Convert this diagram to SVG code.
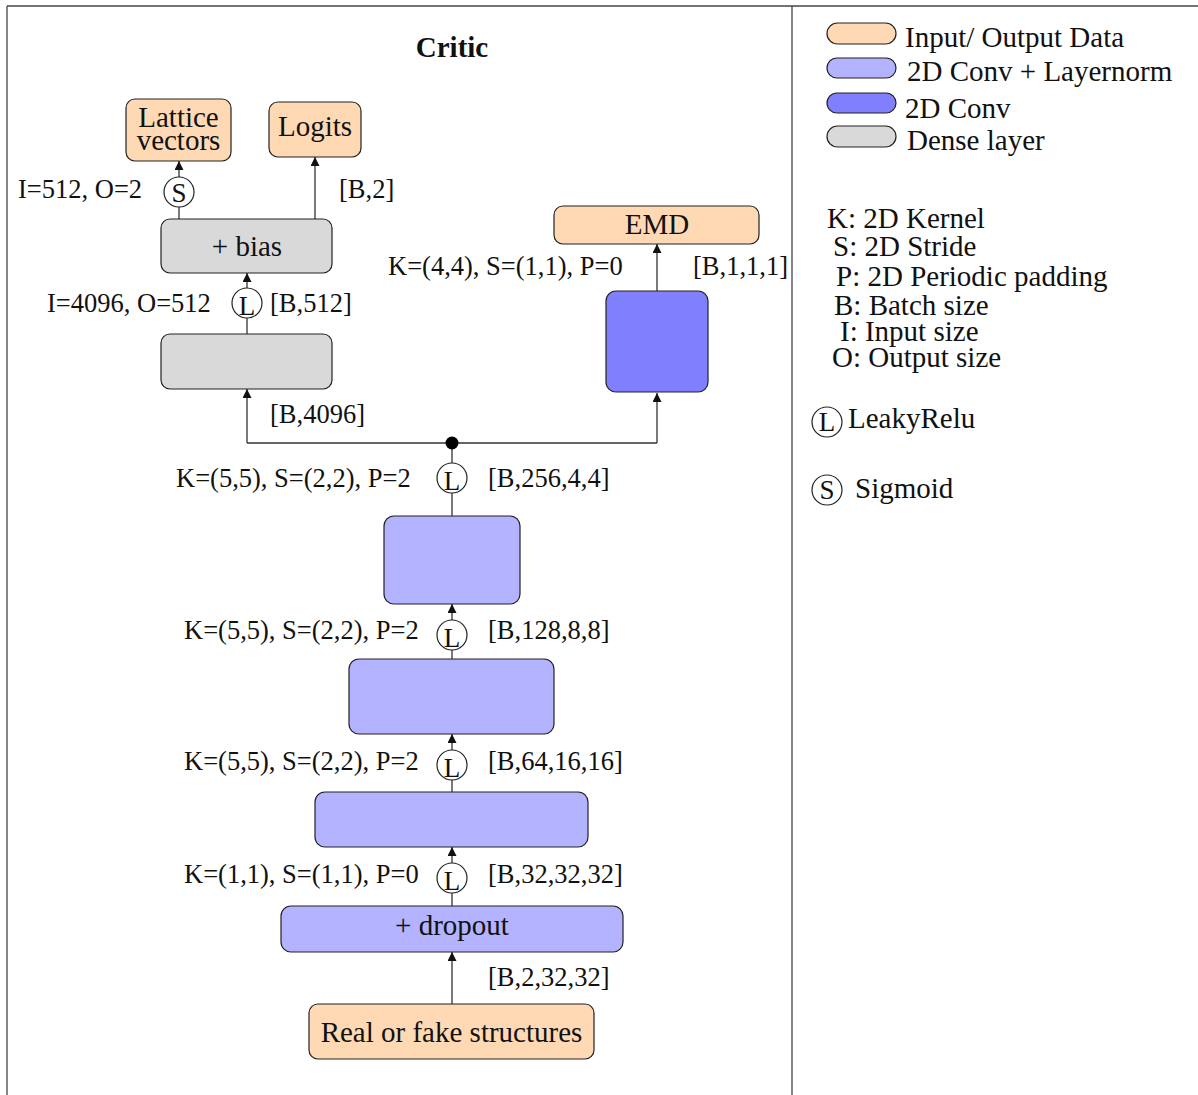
<svg xmlns="http://www.w3.org/2000/svg" width="1198" height="1095" viewBox="0 0 1198 1095">
  <style>
    text { font-family: "Liberation Serif", "Times New Roman", serif; fill: #111; }
    .node { font-size: 29px; text-anchor: middle; }
    .lbl { font-size: 26.5px; }
    .leg { font-size: 29px; }
    .io { fill: #FFD9B3; stroke: #222; stroke-width: 1.2; }
    .cln { fill: #B3B3FF; stroke: #222; stroke-width: 1.2; }
    .conv { fill: #8080FF; stroke: #222; stroke-width: 1.2; }
    .dense { fill: #D9D9D9; stroke: #222; stroke-width: 1.2; }
    .frame { stroke: #444; stroke-width: 1.3; fill: none; }
    .wire { stroke: #333; stroke-width: 1.3; fill: none; }
    .act { fill: #fff; stroke: #222; stroke-width: 1.2; }
    .actt { font-size: 27px; text-anchor: middle; }
  </style>
  <defs>
    <marker id="tip" viewBox="0 0 10 10" refX="10" refY="5" markerWidth="9" markerHeight="9" markerUnits="userSpaceOnUse" orient="auto">
      <path d="M0,0 L10,5 L0,10 z" fill="#111"/>
    </marker>
  </defs>

  <!-- outer frame and column divider -->
  <g id="frame">
    <line class="frame" x1="7" y1="6" x2="1198" y2="6"/>
    <line class="frame" x1="7" y1="6" x2="7" y2="1095"/>
    <line class="frame" x1="792" y1="6" x2="792" y2="1095"/>
  </g>

  <text x="452" y="57" font-size="29" font-weight="bold" text-anchor="middle">Critic</text>

  <!-- connectors -->
  <g id="connectors">
    <line class="wire" x1="179" y1="177" x2="179" y2="161" marker-end="url(#tip)"/>
    <line class="wire" x1="179" y1="219" x2="179" y2="207"/>
    <line class="wire" x1="315" y1="219" x2="315" y2="157" marker-end="url(#tip)"/>
    <line class="wire" x1="247" y1="288" x2="247" y2="273" marker-end="url(#tip)"/>
    <line class="wire" x1="247" y1="334" x2="247" y2="318"/>
    <polyline class="wire" points="247,443 657,443"/>
    <line class="wire" x1="247" y1="443" x2="247" y2="389" marker-end="url(#tip)"/>
    <line class="wire" x1="657" y1="443" x2="657" y2="393" marker-end="url(#tip)"/>
    <line class="wire" x1="657" y1="291" x2="657" y2="244" marker-end="url(#tip)"/>
    <line class="wire" x1="452" y1="443" x2="452" y2="463"/>
    <line class="wire" x1="452" y1="493" x2="452" y2="516"/>
    <line class="wire" x1="452" y1="620" x2="452" y2="604" marker-end="url(#tip)"/>
    <line class="wire" x1="452" y1="650" x2="452" y2="659"/>
    <line class="wire" x1="452" y1="750" x2="452" y2="734" marker-end="url(#tip)"/>
    <line class="wire" x1="452" y1="780" x2="452" y2="792"/>
    <line class="wire" x1="452" y1="863" x2="452" y2="847" marker-end="url(#tip)"/>
    <line class="wire" x1="452" y1="893" x2="452" y2="906"/>
    <line class="wire" x1="452" y1="1004" x2="452" y2="952" marker-end="url(#tip)"/>
    <circle cx="452" cy="443" r="6.5" fill="#000"/>
  </g>

  <!-- output nodes -->
  <g id="lattice">
    <rect class="io" x="126" y="99" width="105" height="62" rx="9"/>
    <text class="node" x="178.5" y="127">Lattice</text>
    <text class="node" x="178.5" y="150">vectors</text>
  </g>
  <g id="logits">
    <rect class="io" x="269" y="102" width="92" height="55" rx="9"/>
    <text class="node" x="315" y="136">Logits</text>
  </g>
  <g id="emd">
    <rect class="io" x="554" y="206" width="205" height="38" rx="9"/>
    <text class="node" x="657" y="234">EMD</text>
  </g>

  <!-- dense layers -->
  <g id="dense-bias">
    <rect class="dense" x="161" y="219" width="171" height="54" rx="9"/>
    <text class="node" x="247" y="256">+ bias</text>
  </g>
  <g id="dense-1">
    <rect class="dense" x="161" y="334" width="171" height="55" rx="9"/>
  </g>

  <!-- final convolution -->
  <g id="conv-out">
    <rect class="conv" x="606" y="291" width="102" height="101" rx="10"/>
  </g>

  <!-- convolution + layernorm stack -->
  <g id="conv-ln-4">
    <rect class="cln" x="384" y="516" width="136" height="88" rx="10"/>
  </g>
  <g id="conv-ln-3">
    <rect class="cln" x="349" y="659" width="205" height="75" rx="10"/>
  </g>
  <g id="conv-ln-2">
    <rect class="cln" x="315" y="792" width="273" height="55" rx="10"/>
  </g>
  <g id="conv-ln-1">
    <rect class="cln" x="281" y="906" width="342" height="46" rx="10"/>
    <text class="node" x="452" y="935">+ dropout</text>
  </g>
  <g id="input">
    <rect class="io" x="309" y="1004" width="285" height="55" rx="9"/>
    <text class="node" x="451.5" y="1042">Real or fake structures</text>
  </g>

  <!-- activations -->
  <g id="act-s">
    <circle class="act" cx="179" cy="192" r="15"/>
    <text class="actt" x="179" y="202">S</text>
  </g>
  <g id="act-l-dense">
    <circle class="act" cx="247" cy="303" r="15"/>
    <text class="actt" x="247" y="315">L</text>
  </g>
  <g id="act-l-4">
    <circle class="act" cx="452" cy="478" r="15"/>
    <text class="actt" x="452" y="490">L</text>
  </g>
  <g id="act-l-3">
    <circle class="act" cx="452" cy="635" r="15"/>
    <text class="actt" x="452" y="647">L</text>
  </g>
  <g id="act-l-2">
    <circle class="act" cx="452" cy="765" r="15"/>
    <text class="actt" x="452" y="777">L</text>
  </g>
  <g id="act-l-1">
    <circle class="act" cx="452" cy="878" r="15"/>
    <text class="actt" x="452" y="890">L</text>
  </g>

  <!-- layer parameters and tensor shapes -->
  <g id="labels" class="lbl">
    <text x="18" y="198">I=512, O=2</text>
    <text x="339" y="198">[B,2]</text>
    <text x="47" y="312">I=4096, O=512</text>
    <text x="270" y="312">[B,512]</text>
    <text x="270" y="423">[B,4096]</text>
    <text x="388" y="275">K=(4,4), S=(1,1), P=0</text>
    <text x="693" y="275">[B,1,1,1]</text>
    <text x="176" y="487">K=(5,5), S=(2,2), P=2</text>
    <text x="488" y="487">[B,256,4,4]</text>
    <text x="184" y="639">K=(5,5), S=(2,2), P=2</text>
    <text x="488" y="639">[B,128,8,8]</text>
    <text x="184" y="770">K=(5,5), S=(2,2), P=2</text>
    <text x="488" y="770">[B,64,16,16]</text>
    <text x="184" y="883">K=(1,1), S=(1,1), P=0</text>
    <text x="488" y="883">[B,32,32,32]</text>
    <text x="488" y="986">[B,2,32,32]</text>
  </g>

  <!-- legend -->
  <g id="legend">
    <rect class="io" x="827" y="23" width="69" height="21" rx="10.5"/>
    <text class="leg" x="905" y="47">Input/ Output Data</text>
    <rect class="cln" x="827" y="58" width="69" height="20" rx="10"/>
    <text class="leg" x="907" y="81">2D Conv + Layernorm</text>
    <rect class="conv" x="827" y="93" width="69" height="20" rx="10"/>
    <text class="leg" x="905" y="118">2D Conv</text>
    <rect class="dense" x="827" y="126" width="69" height="21" rx="10.5"/>
    <text class="leg" x="907" y="150">Dense layer</text>

    <text class="leg" x="827" y="228">K: 2D Kernel</text>
    <text class="leg" x="833" y="256">S: 2D Stride</text>
    <text class="leg" x="836" y="286">P: 2D Periodic padding</text>
    <text class="leg" x="834" y="315">B: Batch size</text>
    <text class="leg" x="840" y="341">I: Input size</text>
    <text class="leg" x="832" y="367">O: Output size</text>

    <circle class="act" cx="827" cy="422" r="15"/>
    <text class="actt" x="827" y="431">L</text>
    <text class="leg" x="848" y="428">LeakyRelu</text>
    <circle class="act" cx="827" cy="490" r="15"/>
    <text class="actt" x="827" y="499">S</text>
    <text class="leg" x="855" y="498">Sigmoid</text>
  </g>
</svg>
